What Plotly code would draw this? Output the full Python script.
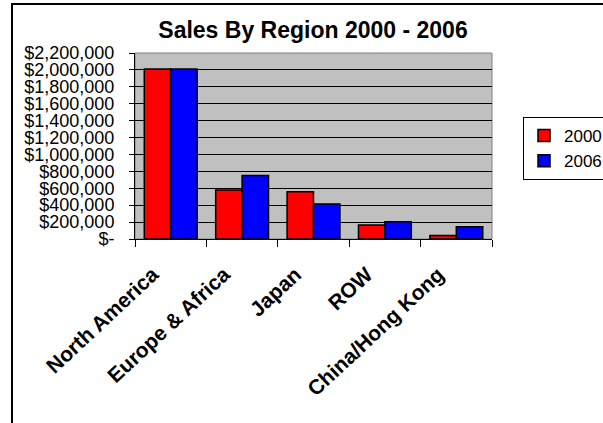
import plotly.graph_objects as go

regions = ["North America", "Europe & Africa", "Japan", "ROW", "China/Hong Kong"]
sales_2000 = [2010000, 580000, 560000, 165000, 40000]
sales_2006 = [2010000, 750000, 415000, 205000, 145000]
y_tickvals = [0, 200000, 400000, 600000, 800000, 1000000, 1200000, 1400000,
              1600000, 1800000, 2000000, 2200000]
y_ticktext = ["$-", "$200,000", "$400,000", "$600,000", "$800,000", "$1,000,000",
              "$1,200,000", "$1,400,000", "$1,600,000", "$1,800,000", "$2,000,000",
              "$2,200,000"]

W, H = 603, 423
L, R, T, B = 135, 492, 53, 239
pw, ph = R - L, B - T

def px_x(x):
    return (x - L) / pw

def px_y(y):
    return (B - y) / ph

fig = go.Figure()
fig.add_trace(go.Bar(name="2000", x=regions, y=sales_2000,
                     marker=dict(color="#FF0000", line=dict(color="black", width=1.5))))
fig.add_trace(go.Bar(name="2006", x=regions, y=sales_2006,
                     marker=dict(color="#0000FF", line=dict(color="black", width=1.5))))

font = "Liberation Sans, Arial, sans-serif"
fig.update_layout(
    width=W, height=H,
    margin=dict(l=L, r=W - R, t=T, b=H - B, autoexpand=False),
    paper_bgcolor="white", plot_bgcolor="#C0C0C0",
    barmode="group", bargap=0.26, bargroupgap=0,
    title=dict(text="<b>Sales By Region 2000 - 2006</b>", x=px_x(313), xanchor="center",
               xref="paper", y=1 - 30 / H, yanchor="middle",
               font=dict(family=font, size=23, color="black")),
    font=dict(family=font, color="black"),
    showlegend=True,
    legend=dict(x=px_x(523), xanchor="left", y=px_y(117), yanchor="top",
                bgcolor="white", bordercolor="black", borderwidth=1,
                font=dict(family=font, size=17, color="black"),
                itemwidth=30, tracegroupgap=0),
    xaxis=dict(type="category", tickangle=-43, tickson="boundaries", ticks="outside",
               ticklen=7, tickcolor="black", showline=True, linecolor="black",
               linewidth=1, showgrid=False,
               tickfont=dict(family=font, size=21, color="black", weight="bold"),
               ticklabelstandoff=14, ticklabelshift=-18),
    yaxis=dict(range=[0, 2200000], tickvals=y_tickvals, ticktext=y_ticktext,
               ticks="outside", ticklen=5, tickcolor="black", showline=True,
               linecolor="black", linewidth=1, showgrid=True, gridcolor="black",
               gridwidth=1, zeroline=False, ticklabelstandoff=11,
               tickfont=dict(family=font, size=18, color="black")),
    shapes=[
        dict(type="rect", xref="paper", yref="paper", x0=0, x1=1, y0=0, y1=1,
             line=dict(color="#808080", width=1), layer="below"),
        dict(type="rect", xref="paper", yref="paper",
             x0=px_x(12), x1=px_x(W + 10), y0=px_y(H + 10), y1=px_y(4),
             line=dict(color="black", width=2)),
    ],
)

fig.write_html("out.html", config={"displayModeBar": False},
               post_script="document.body.style.margin='0';")
